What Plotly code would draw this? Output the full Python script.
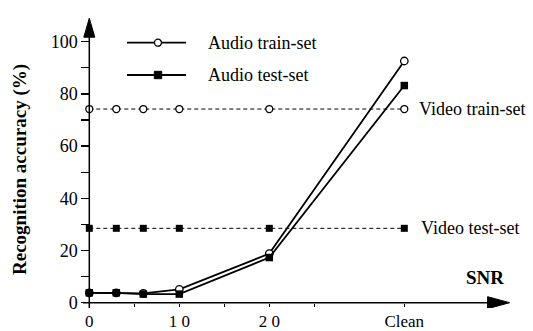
import plotly.graph_objects as go

snr_x = [0, 3, 6, 10, 20, 35]
x_tickvals = [0, 5, 10, 15, 20, 25, 35]
x_ticktext = ["0", "", "1 0", "", "2 0", "", "Clean"]
y_tickvals = [0, 10, 20, 30, 40, 50, 60, 70, 80, 90, 100]
y_ticktext = ["0", "", "20", "", "40", "", "60", "", "80", "", "100"]

audio_train = [3.8, 3.8, 3.6, 5.1, 18.8, 92.6]
audio_test = [3.8, 3.8, 3.3, 3.3, 17.3, 83.2]
video_train = [74.2, 74.2, 74.2, 74.2, 74.2, 74.2]
video_test = [28.5, 28.5, 28.5, 28.5, 28.5, 28.5]

FONT = "Liberation Serif, Times New Roman, serif"

W, H = 533, 331
L, R, T, B = 76, 16, 14, 23
PW, PH = W - L - R, H - T - B
X0PX, Y0PX = 89.3, 302.7     # pixel position of data origin
SX, SY = 9.0, 2.61           # pixels per unit
x_lo = -(X0PX - L) / SX
x_hi = x_lo + PW / SX
y_lo = -((H - B) - Y0PX) / SY
y_hi = y_lo + PH / SY


def px(xp):
    return (xp - L) / PW


def py(yp):
    return ((H - B) - yp) / PH


fig = go.Figure()
fig.add_trace(go.Scatter(x=snr_x, y=video_train, mode="lines+markers",
                         line=dict(color="black", width=1, dash="4px,3px"),
                         marker=dict(symbol="circle", size=7, color="white",
                                     line=dict(color="black", width=1.3)),
                         cliponaxis=False, showlegend=False, hoverinfo="skip"))
fig.add_trace(go.Scatter(x=snr_x, y=video_test, mode="lines+markers",
                         line=dict(color="black", width=1, dash="4px,3px"),
                         marker=dict(symbol="square", size=7, color="black"),
                         cliponaxis=False, showlegend=False, hoverinfo="skip"))
fig.add_trace(go.Scatter(x=snr_x, y=audio_train, mode="lines+markers",
                         line=dict(color="black", width=1.8),
                         marker=dict(symbol="circle", size=7.5, color="white",
                                     line=dict(color="black", width=1.3)),
                         cliponaxis=False, showlegend=False, hoverinfo="skip"))
fig.add_trace(go.Scatter(x=snr_x, y=audio_test, mode="lines+markers",
                         line=dict(color="black", width=1.8),
                         marker=dict(symbol="square", size=7.5, color="black"),
                         cliponaxis=False, showlegend=False, hoverinfo="skip"))

leg_y1, leg_y2 = py(42.7), py(75)
shapes = [
    dict(type="line", xref="x", yref="y", x0=-0.7, x1=45.5, y0=0, y1=0,
         line=dict(color="black", width=1.5)),
    dict(type="line", xref="x", yref="y", x0=0, x1=0, y0=-2, y1=104,
         line=dict(color="black", width=1.5)),
    dict(type="path", xref="x", yref="y", xsizemode="pixel", ysizemode="pixel",
         xanchor=46.7, yanchor=0, path="M-22,-6 L0,0 L-22,6 Z",
         fillcolor="black", line=dict(color="black", width=1)),
    dict(type="path", xref="x", yref="y", xsizemode="pixel", ysizemode="pixel",
         xanchor=0, yanchor=109, path="M-5.5,-19 L0,0 L5.5,-19 Z",
         fillcolor="black", line=dict(color="black", width=1)),
    dict(type="line", xref="paper", yref="paper", x0=px(127), x1=px(186), y0=leg_y1, y1=leg_y1,
         line=dict(color="black", width=1.8)),
    dict(type="line", xref="paper", yref="paper", x0=px(127), x1=px(186), y0=leg_y2, y1=leg_y2,
         line=dict(color="black", width=1.8)),
    dict(type="circle", xref="paper", yref="paper", xsizemode="pixel", ysizemode="pixel",
         xanchor=px(158), yanchor=leg_y1, x0=-3.5, x1=3.5, y0=-3.5, y1=3.5,
         fillcolor="white", line=dict(color="black", width=1.3)),
    dict(type="rect", xref="paper", yref="paper", xsizemode="pixel", ysizemode="pixel",
         xanchor=px(158), yanchor=leg_y2, x0=-3.7, x1=3.7, y0=-3.7, y1=3.7,
         fillcolor="black", line=dict(color="black", width=1)),
]

annotations = [
    dict(xref="paper", yref="paper", x=px(206), y=leg_y1, text="Audio train-set",
         showarrow=False, xanchor="left", yanchor="middle", font=dict(size=18)),
    dict(xref="paper", yref="paper", x=px(206), y=leg_y2, text="Audio test-set",
         showarrow=False, xanchor="left", yanchor="middle", font=dict(size=18)),
    dict(xref="x", yref="y", x=35, y=74.2, xshift=13, text="Video train-set",
         showarrow=False, xanchor="left", yanchor="middle", font=dict(size=18)),
    dict(xref="x", yref="y", x=35, y=28.5, xshift=15, text="Video test-set",
         showarrow=False, xanchor="left", yanchor="middle", font=dict(size=18)),
    dict(xref="paper", yref="paper", x=px(20), y=py(170), text="<b>Recognition accuracy (%)</b>",
         showarrow=False, textangle=-90, xanchor="center", yanchor="middle",
         font=dict(size=19)),
    dict(xref="x", yref="y", x=44.0, y=9.8, text="<b>SNR</b>",
         showarrow=False, xanchor="center", yanchor="middle", font=dict(size=19)),
]

fig.update_layout(
    width=W, height=H,
    margin=dict(l=L, r=R, t=T, b=B, pad=0),
    paper_bgcolor="white", plot_bgcolor="white",
    font=dict(family=FONT, size=18, color="black"),
    showlegend=False,
    hovermode=False,
    shapes=shapes,
    annotations=annotations,
    xaxis=dict(range=[x_lo, x_hi], anchor="free", position=(0 - y_lo) / (y_hi - y_lo),
               tickvals=x_tickvals, ticktext=x_ticktext,
               ticks="outside", ticklen=3, tickwidth=1.3, tickcolor="black",
               showgrid=False, zeroline=False, showline=False, automargin=False,
               tickfont=dict(size=17)),
    yaxis=dict(range=[y_lo, y_hi], anchor="free", position=(0 - x_lo) / (x_hi - x_lo),
               tickvals=y_tickvals, ticktext=y_ticktext,
               ticks="outside", ticklen=8, tickwidth=1.3, tickcolor="black",
               showgrid=False, zeroline=False, showline=False, automargin=False,
               tickfont=dict(size=18)),
)

fig.write_html("out.html", config={"displayModeBar": False, "staticPlot": True},
               post_script="document.body.style.margin='0';document.body.style.overflow='hidden';")
